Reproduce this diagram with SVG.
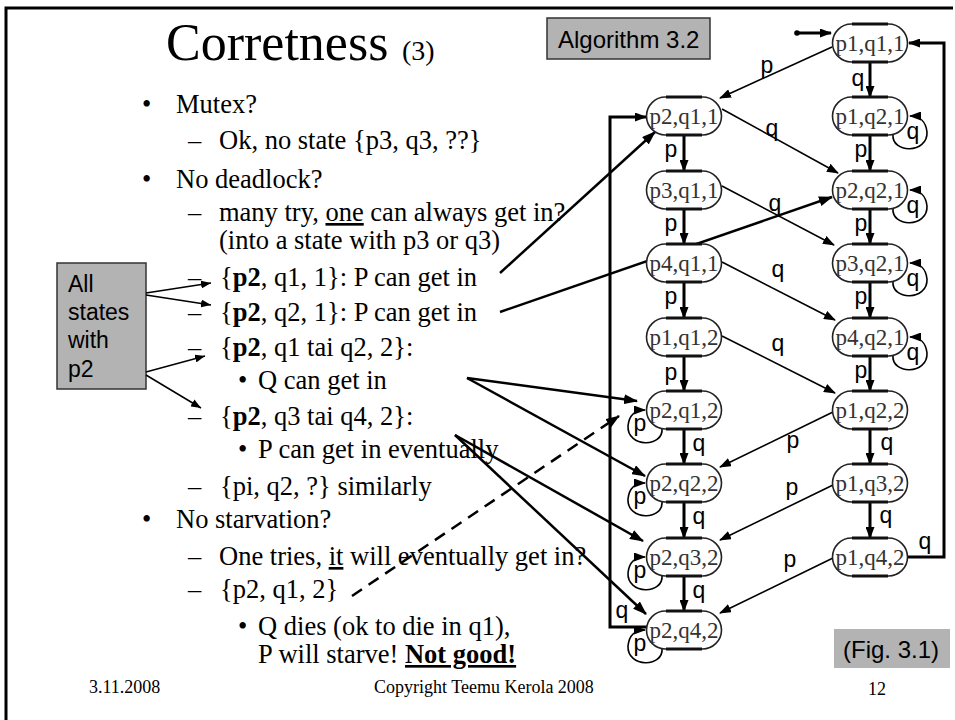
<svg xmlns="http://www.w3.org/2000/svg" width="955" height="720" viewBox="0 0 955 720">
<defs>
<marker id="a" markerUnits="userSpaceOnUse" markerWidth="12" markerHeight="9" refX="11" refY="4.5" orient="auto" viewBox="0 0 12 9"><path d="M0,0 L12,4.5 L0,9 z" fill="#000"/></marker>
<marker id="b" markerUnits="userSpaceOnUse" markerWidth="14" markerHeight="10" refX="13" refY="5" orient="auto" viewBox="0 0 14 10"><path d="M0,0 L14,5 L0,10 z" fill="#000"/></marker>
<marker id="c" markerUnits="userSpaceOnUse" markerWidth="10" markerHeight="8" refX="10" refY="4" orient="auto" viewBox="0 0 10 8"><path d="M0,0 L10,4 L0,8 z" fill="#000"/></marker>
</defs>
<style>
.frame{fill:none;stroke:#000;stroke-width:3}
.nb{fill:#fff;stroke:#222;stroke-width:1.6}
.tb{fill:none;stroke:#111;stroke-width:3}
.nt{font-family:"Liberation Serif","Times New Roman",serif;font-size:23px;fill:#333;text-anchor:middle}
.lb{font-family:"Liberation Sans",Arial,sans-serif;font-size:23px;fill:#000;text-anchor:middle}
.v{fill:none;stroke:#000;stroke-width:3;marker-end:url(#a)}
.d{fill:none;stroke:#000;stroke-width:1.6;marker-end:url(#a)}
.lp{fill:none;stroke:#000;stroke-width:1.6;marker-end:url(#a)}
.ol{fill:none;stroke:#000;stroke-width:3;marker-end:url(#a)}
.ta{fill:none;stroke:#000;stroke-width:2.5;marker-end:url(#b)}
.dash{fill:none;stroke:#000;stroke-width:2.5;stroke-dasharray:12 8;marker-end:url(#b)}
.ba{fill:none;stroke:#000;stroke-width:1.5;marker-end:url(#c)}
.grey{fill:#b3b3b3;stroke:#333;stroke-width:1.5}
.sans{font-family:"Liberation Sans",Arial,sans-serif;fill:#000}
.body{font-family:"Liberation Serif","Times New Roman",serif;font-size:26.5px;fill:#000}
.foot{font-family:"Liberation Serif","Times New Roman",serif;font-size:18px;fill:#000}
.u{text-decoration:underline}
.bo{font-weight:bold}
</style>

<path class="frame" d="M6,720 V8 H953"/>

<g id="title">
<text x="166" y="60" font-family="Liberation Serif, Times New Roman, serif" font-size="52">Corretness</text>
<text x="402" y="60" font-family="Liberation Serif, Times New Roman, serif" font-size="28">(3)</text>
</g>

<g id="algo-box">
<rect class="grey" x="547" y="18" width="163" height="41"/>
<text class="sans" x="558" y="48" font-size="24">Algorithm 3.2</text>
</g>

<g id="fig-box">
<rect x="834" y="629" width="116" height="39" fill="#b3b3b3"/>
<text class="sans" x="843" y="658" font-size="24">(Fig. 3.1)</text>
</g>

<g id="all-states-box">
<rect class="grey" x="57" y="263" width="89" height="126"/>
<text class="sans" x="68" y="292" font-size="23">All</text>
<text class="sans" x="68" y="320" font-size="23">states</text>
<text class="sans" x="68" y="348" font-size="23">with</text>
<text class="sans" x="68" y="377" font-size="23">p2</text>
</g>

<g id="bullets" class="body">
<text x="142" y="113">•</text><text x="176" y="113">Mutex?</text>
<text x="188" y="149">–</text><text x="219" y="149">Ok, no state {p3, q3, ??}</text>
<text x="142" y="188">•</text><text x="176" y="188">No deadlock?</text>
<text x="188" y="221">–</text><text x="219" y="221">many try, <tspan class="u">one</tspan> can always get in?</text>
<text x="219" y="249">(into a state with p3 or q3)</text>
<text x="188" y="286">–</text><text x="220" y="286">{<tspan class="bo">p2</tspan>, q1, 1}: P can get in</text>
<text x="188" y="321">–</text><text x="220" y="321">{<tspan class="bo">p2</tspan>, q2, 1}: P can get in</text>
<text x="188" y="356">–</text><text x="220" y="356">{<tspan class="bo">p2</tspan>, q1 tai q2, 2}:</text>
<text x="238" y="389">•</text><text x="258" y="389">Q can get in</text>
<text x="188" y="425">–</text><text x="220" y="425">{<tspan class="bo">p2</tspan>, q3 tai q4, 2}:</text>
<text x="238" y="458">•</text><text x="258" y="458">P can get in eventually</text>
<text x="188" y="495">–</text><text x="220" y="495">{pi, q2, ?} similarly</text>
<text x="142" y="528">•</text><text x="176" y="528">No starvation?</text>
<text x="188" y="565">–</text><text x="219" y="565">One tries, <tspan class="u">it</tspan> will eventually get in?</text>
<text x="188" y="598">–</text><text x="220" y="598">{p2, q1, 2}</text>
<text x="238" y="635">•</text><text x="258" y="635">Q dies (ok to die in q1),</text>
<text x="258" y="663">P will starve! <tspan class="bo u">Not good!</tspan></text>
</g>

<g id="footer" class="foot">
<text x="89" y="693">3.11.2008</text>
<text x="374" y="693">Copyright Teemu Kerola 2008</text>
<text x="868" y="695">12</text>
</g>

<g id="connectors">
<circle cx="797" cy="33" r="2.8" fill="#000"/>
<path class="v" stroke-width="2" d="M797,33 H831"/>
<path class="v" d="M870,62 V97"/>
<path class="v" d="M870,135 V171"/>
<path class="v" d="M870,209 V244"/>
<path class="v" d="M870,282 V318"/>
<path class="v" d="M870,356 V391"/>
<path class="v" d="M870,429 V464"/>
<path class="v" d="M870,502 V538"/>
<path class="v" d="M684,135 V171"/>
<path class="v" d="M684,209 V244"/>
<path class="v" d="M684,282 V318"/>
<path class="v" d="M684,356 V391"/>
<path class="v" d="M684,429 V464"/>
<path class="v" d="M684,502 V538"/>
<path class="v" d="M684,576 V611"/>
<path class="d" d="M832,47 L720,98"/>
<path class="d" d="M722,109 L838,173"/>
<path class="d" d="M722,186 L834,245"/>
<path class="d" d="M722,262 L835,320"/>
<path class="d" d="M722,336 L835,393"/>
<path class="d" d="M833,412 L720,467"/>
<path class="d" d="M833,485 L720,540"/>
<path class="d" d="M833,558 L720,613"/>
<path class="ol" d="M907,557 H944 V43 H909"/>
<path class="ol" d="M647,627 H610 V117 H646"/>
<path class="lp" d="M893,134 C891,154 928,154 927,132 C926,122 920,116 910,116"/>
<path class="lp" d="M893,208 C891,228 928,228 927,206 C926,196 920,190 910,190"/>
<path class="lp" d="M893,281 C891,301 928,301 927,279 C926,269 920,263 910,263"/>
<path class="lp" d="M893,355 C891,375 928,375 927,353 C926,343 920,337 910,337"/>
<path class="lp" d="M662,428 C664,448 627,448 628,426 C629,416 634,410 645,410"/>
<path class="lp" d="M662,501 C664,521 627,521 628,499 C629,489 634,483 645,483"/>
<path class="lp" d="M662,575 C664,595 627,595 628,573 C629,563 634,557 645,557"/>
<path class="lp" d="M662,648 C664,668 627,668 628,646 C629,636 634,630 645,630"/>
<path class="ta" d="M500,273 L655,132"/>
<path class="ta" d="M500,312 L832,197"/>
<path class="ta" d="M467,378 L637,401"/>
<path class="ta" d="M467,378 L645,476"/>
<path class="ta" d="M455,435 L643,541"/>
<path class="ta" d="M455,435 L646,614"/>
<path class="dash" d="M352,596 L619,416"/>
<path class="ba" d="M146,293 L211,283"/>
<path class="ba" d="M146,295 L211,305"/>
<path class="ba" d="M146,372 L205,356"/>
<path class="ba" d="M146,375 L201,408"/>
</g>

<g id="edge-labels" class="lb">
<text x="767" y="73">p</text>
<text x="858" y="86">q</text>
<text x="861" y="157">p</text>
<text x="861" y="231">p</text>
<text x="861" y="304">p</text>
<text x="861" y="378">p</text>
<text x="887" y="450">q</text>
<text x="886" y="523">q</text>
<text x="671" y="157">p</text>
<text x="671" y="231">p</text>
<text x="671" y="304">p</text>
<text x="671" y="380">p</text>
<text x="699" y="451">q</text>
<text x="699" y="524">q</text>
<text x="699" y="598">q</text>
<text x="772" y="136">q</text>
<text x="775" y="211">q</text>
<text x="778" y="277">q</text>
<text x="778" y="351">q</text>
<text x="793" y="448">p</text>
<text x="792" y="495">p</text>
<text x="790" y="567">p</text>
<text x="925" y="549">q</text>
<text x="622" y="618">q</text>
<text x="913" y="139">q</text>
<text x="913" y="213">q</text>
<text x="913" y="286">q</text>
<text x="913" y="360">q</text>
<text x="640" y="431">p</text>
<text x="640" y="504">p</text>
<text x="640" y="578">p</text>
<text x="640" y="651">p</text>
</g>

<g id="n-p1q11" transform="translate(870,43)"><rect class="nb" x="-37.5" y="-19" width="75" height="38" rx="19"/><path class="tb" d="M-18,-19H18M-18,19H18"/><text class="nt" y="8">p1,q1,1</text></g>
<g id="n-p1q21" transform="translate(870,116)"><rect class="nb" x="-37.5" y="-19" width="75" height="38" rx="19"/><path class="tb" d="M-18,-19H18M-18,19H18"/><text class="nt" y="8">p1,q2,1</text></g>
<g id="n-p2q21" transform="translate(870,190)"><rect class="nb" x="-37.5" y="-19" width="75" height="38" rx="19"/><path class="tb" d="M-18,-19H18M-18,19H18"/><text class="nt" y="8">p2,q2,1</text></g>
<g id="n-p3q21" transform="translate(870,263)"><rect class="nb" x="-37.5" y="-19" width="75" height="38" rx="19"/><path class="tb" d="M-18,-19H18M-18,19H18"/><text class="nt" y="8">p3,q2,1</text></g>
<g id="n-p4q21" transform="translate(870,337)"><rect class="nb" x="-37.5" y="-19" width="75" height="38" rx="19"/><path class="tb" d="M-18,-19H18M-18,19H18"/><text class="nt" y="8">p4,q2,1</text></g>
<g id="n-p1q22" transform="translate(870,410)"><rect class="nb" x="-37.5" y="-19" width="75" height="38" rx="19"/><path class="tb" d="M-18,-19H18M-18,19H18"/><text class="nt" y="8">p1,q2,2</text></g>
<g id="n-p1q32" transform="translate(870,483)"><rect class="nb" x="-37.5" y="-19" width="75" height="38" rx="19"/><path class="tb" d="M-18,-19H18M-18,19H18"/><text class="nt" y="8">p1,q3,2</text></g>
<g id="n-p1q42" transform="translate(870,557)"><rect class="nb" x="-37.5" y="-19" width="75" height="38" rx="19"/><path class="tb" d="M-18,-19H18M-18,19H18"/><text class="nt" y="8">p1,q4,2</text></g>
<g id="n-p2q11" transform="translate(684,116)"><rect class="nb" x="-37.5" y="-19" width="75" height="38" rx="19"/><path class="tb" d="M-18,-19H18M-18,19H18"/><text class="nt" y="8">p2,q1,1</text></g>
<g id="n-p3q11" transform="translate(684,190)"><rect class="nb" x="-37.5" y="-19" width="75" height="38" rx="19"/><path class="tb" d="M-18,-19H18M-18,19H18"/><text class="nt" y="8">p3,q1,1</text></g>
<g id="n-p4q11" transform="translate(684,263)"><rect class="nb" x="-37.5" y="-19" width="75" height="38" rx="19"/><path class="tb" d="M-18,-19H18M-18,19H18"/><text class="nt" y="8">p4,q1,1</text></g>
<g id="n-p1q12" transform="translate(684,337)"><rect class="nb" x="-37.5" y="-19" width="75" height="38" rx="19"/><path class="tb" d="M-18,-19H18M-18,19H18"/><text class="nt" y="8">p1,q1,2</text></g>
<g id="n-p2q12" transform="translate(684,410)"><rect class="nb" x="-37.5" y="-19" width="75" height="38" rx="19"/><path class="tb" d="M-18,-19H18M-18,19H18"/><text class="nt" y="8">p2,q1,2</text></g>
<g id="n-p2q22" transform="translate(684,483)"><rect class="nb" x="-37.5" y="-19" width="75" height="38" rx="19"/><path class="tb" d="M-18,-19H18M-18,19H18"/><text class="nt" y="8">p2,q2,2</text></g>
<g id="n-p2q32" transform="translate(684,557)"><rect class="nb" x="-37.5" y="-19" width="75" height="38" rx="19"/><path class="tb" d="M-18,-19H18M-18,19H18"/><text class="nt" y="8">p2,q3,2</text></g>
<g id="n-p2q42" transform="translate(684,630)"><rect class="nb" x="-37.5" y="-19" width="75" height="38" rx="19"/><path class="tb" d="M-18,-19H18M-18,19H18"/><text class="nt" y="8">p2,q4,2</text></g>
</svg>
